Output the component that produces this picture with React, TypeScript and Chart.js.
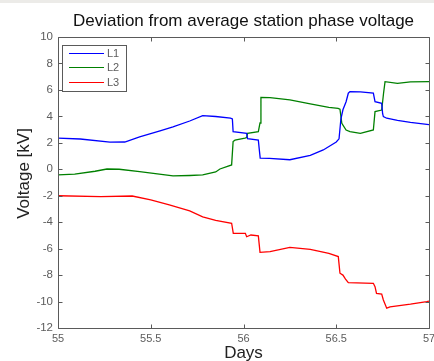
import React, { useEffect, useRef } from "react";
import { Chart, registerables } from "chart.js";

Chart.register(...registerables);

const chartTitle = "Deviation from average station phase voltage";
const xAxisTitle = "Days";
const yAxisTitle = "Voltage [kV]";

const xTicks = [55, 55.5, 56, 56.5, 57];
const yTicks = [10, 8, 6, 4, 2, 0, -2, -4, -6, -8, -10, -12];

const seriesLabels = ["L1", "L2", "L3"];
const seriesColors = ["#0000ff", "#008000", "#ff0000"];

const l1Days = [55.0, 55.12, 55.28, 55.36, 55.44, 55.55, 55.62, 55.71, 55.78, 55.85, 55.93, 55.94, 55.944, 56.017, 56.022, 56.08, 56.085, 56.09, 56.14, 56.25, 56.36, 56.43, 56.5, 56.515, 56.525, 56.536, 56.553, 56.565, 56.574, 56.63, 56.7, 56.709, 56.745, 56.75, 56.754, 56.772, 56.83, 56.9, 57.0];
const l1Kv = [2.35, 2.29, 2.05, 2.06, 2.45, 2.9, 3.2, 3.65, 4.05, 3.99, 3.86, 3.8, 2.85, 2.72, 2.32, 2.2, 1.5, 0.85, 0.82, 0.72, 1.05, 1.46, 2.06, 2.3, 3.8, 4.5, 5.11, 5.75, 5.87, 5.85, 5.75, 5.11, 4.99, 4.2, 3.98, 3.86, 3.7, 3.55, 3.38];

const l2Days = [55.0, 55.09, 55.2, 55.264, 55.33, 55.44, 55.62, 55.71, 55.78, 55.85, 55.873, 55.936, 55.944, 55.954, 56.008, 56.017, 56.022, 56.08, 56.089, 56.094, 56.143, 56.25, 56.36, 56.46, 56.51, 56.52, 56.53, 56.553, 56.574, 56.63, 56.7, 56.709, 56.745, 56.755, 56.763, 56.83, 56.9, 57.0];
const l2Kv = [-0.43, -0.36, -0.15, 0.02, 0.0, -0.18, -0.5, -0.47, -0.43, -0.2, 0.02, 0.33, 2.1, 2.2, 2.35, 2.4, 2.72, 2.85, 3.5, 5.43, 5.42, 5.24, 4.94, 4.68, 4.61, 4.54, 3.48, 2.97, 2.84, 2.72, 2.97, 4.36, 4.48, 5.75, 6.62, 6.5, 6.6, 6.62];

const l3Days = [55.0, 55.23, 55.4, 55.5, 55.6, 55.71, 55.78, 55.85, 55.936, 55.945, 56.01, 56.017, 56.04, 56.08, 56.089, 56.143, 56.25, 56.36, 56.46, 56.511, 56.52, 56.536, 56.55, 56.565, 56.7, 56.709, 56.717, 56.745, 56.754, 56.772, 56.79, 56.9, 56.988, 57.0];
const l3Kv = [-2.0, -2.07, -2.02, -2.32, -2.7, -3.15, -3.6, -3.87, -4.08, -4.84, -4.84, -5.1, -4.97, -5.04, -6.28, -6.23, -5.9, -6.05, -6.35, -6.6, -7.86, -8.0, -8.3, -8.57, -8.62, -8.87, -9.38, -9.43, -9.88, -10.5, -10.4, -10.2, -10.01, -9.96];

const FONT = "'Liberation Sans', Arial, Helvetica, sans-serif";
const AXIS_COLOR = "#5a5a5a";
const TICK_TEXT = "#5c5c5c";

const framePlugin = {
  id: "frame",
  beforeDraw(chart: any) {
    const { ctx, width, height } = chart;
    ctx.save();
    ctx.fillStyle = "#ffffff";
    ctx.fillRect(0, 0, width, height);
    ctx.fillStyle = "#ecebe8";
    ctx.fillRect(0, 0, width, 3);
    ctx.restore();
  },
  afterDraw(chart: any) {
    const { ctx, chartArea: a, scales } = chart;
    const L = Math.round(a.left) + 0.5;
    const R = Math.round(a.right) + 0.5;
    const T = Math.round(a.top) + 0.5;
    const B = Math.round(a.bottom) + 0.5;
    ctx.save();
    ctx.strokeStyle = AXIS_COLOR;
    ctx.lineWidth = 1;
    ctx.beginPath();
    ctx.rect(L, T, R - L, B - T);
    const tl = 4;
    scales.y.ticks.forEach((t: any) => {
      const y = Math.round(scales.y.getPixelForValue(t.value)) + 0.5;
      ctx.moveTo(L, y); ctx.lineTo(L + tl, y);
      ctx.moveTo(R, y); ctx.lineTo(R - tl, y);
    });
    scales.x.ticks.forEach((t: any) => {
      const x = Math.round(scales.x.getPixelForValue(t.value)) + 0.5;
      ctx.moveTo(x, B); ctx.lineTo(x, B - tl);
      ctx.moveTo(x, T); ctx.lineTo(x, T + tl);
    });
    ctx.stroke();

    // y axis title
    ctx.fillStyle = "#222222";
    ctx.font = `17px ${FONT}`;
    ctx.textAlign = "center";
    ctx.textBaseline = "middle";
    ctx.translate(24.5, 173.5);
    ctx.rotate(-Math.PI / 2);
    ctx.fillText(yAxisTitle, 0, 0);
    ctx.restore();

    // legend
    ctx.save();
    const bx = Math.round(a.left) + 4.5;
    const by = Math.round(a.top) + 8.5;
    const bw = 64;
    const bh = 46;
    ctx.fillStyle = "#ffffff";
    ctx.fillRect(bx, by, bw, bh);
    ctx.strokeStyle = AXIS_COLOR;
    ctx.lineWidth = 1;
    ctx.strokeRect(bx, by, bw, bh);
    ctx.font = `11px ${FONT}`;
    ctx.textAlign = "left";
    ctx.textBaseline = "middle";
    chart.data.datasets.forEach((ds: any, i: number) => {
      const y = Math.round(by + 7.5 + i * 14.3) + 0.5;
      ctx.strokeStyle = ds.borderColor;
      ctx.beginPath();
      ctx.moveTo(bx + 6.5, y);
      ctx.lineTo(bx + 41.5, y);
      ctx.stroke();
      ctx.fillStyle = TICK_TEXT;
      ctx.fillText(ds.label, bx + 44.5, y + 0.5);
    });
    ctx.restore();
  },
};

function makeData(days: number[], kv: number[]) {
  return days.map((d, i) => ({ x: d, y: kv[i] }));
}

export default function App() {
  const ref = useRef<HTMLCanvasElement | null>(null);
  useEffect(() => {
    if (!ref.current) return;
    const dayArrays = [l1Days, l2Days, l3Days];
    const kvArrays = [l1Kv, l2Kv, l3Kv];
    const chart = new Chart(ref.current, {
      type: "line",
      data: {
        datasets: seriesLabels.map((label, i) => ({
          label,
          data: makeData(dayArrays[i], kvArrays[i]),
          borderColor: seriesColors[i],
          backgroundColor: seriesColors[i],
          borderWidth: 1.3,
          pointRadius: 0,
          tension: 0,
          fill: false,
        })),
      },
      options: {
        responsive: false,
        animation: false,
        events: [],
        layout: { padding: { left: 0, right: 5, top: 0, bottom: 0 }, autoPadding: false },
        plugins: {
          legend: { display: false },
          tooltip: { enabled: false },
          title: {
            display: true,
            text: chartTitle,
            fullSize: false,
            color: "#111111",
            font: { family: FONT, size: 17, weight: "normal", lineHeight: 1.2 },
            padding: { top: 11, bottom: 5.6 },
          },
        },
        scales: {
          x: {
            type: "linear",
            min: 55,
            max: 57,
            afterBuildTicks: (s: any) => { s.ticks = xTicks.map((v) => ({ value: v })); },
            afterFit: (s: any) => { s.height = 33; s.paddingLeft = 0; s.paddingRight = 0; },
            grid: { display: false, drawTicks: false },
            border: { display: false },
            ticks: {
              color: TICK_TEXT,
              padding: 4,
              maxRotation: 0,
              autoSkip: false,
              font: { family: FONT, size: 11 },
              callback: (v: any) => String(v),
            },
            title: {
              display: true,
              text: xAxisTitle,
              color: "#222222",
              font: { family: FONT, size: 17, lineHeight: 0.9 },
              padding: { top: 0, bottom: 0 },
            },
          },
          y: {
            type: "linear",
            min: -12,
            max: 10,
            afterBuildTicks: (s: any) => { s.ticks = yTicks.map((v) => ({ value: v })); },
            afterFit: (s: any) => { s.width = 58; s.paddingTop = 0; s.paddingBottom = 0; },
            grid: { display: false, drawTicks: false },
            border: { display: false },
            ticks: {
              color: TICK_TEXT,
              padding: 5,
              autoSkip: false,
              font: { family: FONT, size: 11.5 },
              callback: (v: any) => String(v),
            },
          },
        },
      },
      plugins: [framePlugin],
    });
    return () => chart.destroy();
  }, []);
  return (
    <div style={{ position: "fixed", left: 0, top: 0, width: 434, height: 361, background: "#fff" }}>
      <canvas ref={ref} width={434} height={361} style={{ display: "block" }} />
    </div>
  );
}
